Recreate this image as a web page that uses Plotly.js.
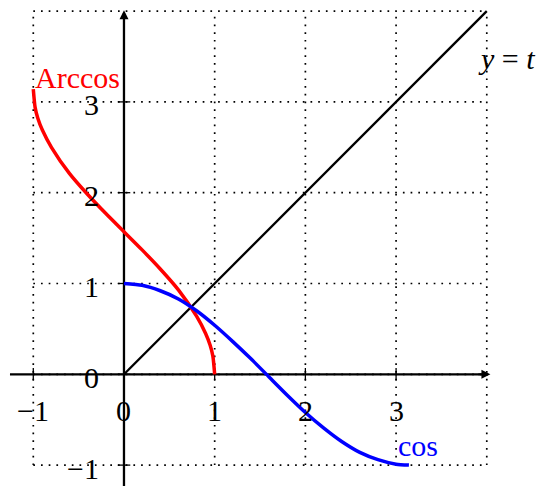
<!DOCTYPE html>
<html>
<head>
<meta charset="utf-8">
<script src="https://cdn.plot.ly/plotly-3.0.1.min.js"></script>
<style>
  html, body { margin: 0; padding: 0; background: #fff; }
  #plot { width: 548px; height: 486px; }
</style>
</head>
<body>
<div id="plot"></div>
<script>
// cos t on [0, π]
const cosT = [0, 0.2, 0.4, 0.6, 0.8, 1.0, 1.2, 1.4, 1.6, 1.8, 2.0, 2.2, 2.4, 2.6, 2.8, 3.0, 3.1416];
const cosY = [1, 0.98, 0.92, 0.83, 0.70, 0.54, 0.36, 0.17, -0.03, -0.23, -0.42, -0.59, -0.74, -0.86, -0.94, -0.99, -1];

// Arccos t on [-1, 1]
const acosT = [-1, -0.98, -0.95, -0.9, -0.8, -0.6, -0.4, -0.2, 0, 0.2, 0.4, 0.6, 0.8, 0.9, 0.95, 0.98, 1.0];
const acosY = [3.1416, 2.94, 2.82, 2.69, 2.50, 2.21, 1.98, 1.77, 1.57, 1.37, 1.16, 0.93, 0.64, 0.45, 0.32, 0.20, 0];

// y = t
const idT = [0, 4];
const idY = [0, 4];

// grid and tick values
const gridVals = [-1, 0, 1, 2, 3, 4];
const xTicks = [-1, 0, 1, 2, 3];
const yTicks = [-1, 0, 1, 2, 3];
const xTickLabels = ['\u22121', '0', '1', '2', '3'];
const yTickLabels = ['\u22121', '0', '1', '2', '3'];

const FONT = '"Liberation Serif", "DejaVu Serif", serif';
const FS = 30;

const xRange = [-1.367, 4.675];
const yRange = [-1.230, 4.122];
const axisX = [-1.257, 4.04];
const axisY = [-1.25, 4.01];

const shapes = [];
gridVals.forEach(v => {
  shapes.push({type: 'line', xref: 'x', yref: 'y', x0: v, x1: v, y0: -1, y1: 4,
    layer: 'below', line: {color: '#000', width: 1.7, dash: '1.7px,6px'}});
  shapes.push({type: 'line', xref: 'x', yref: 'y', x0: -1, x1: 4, y0: v, y1: v,
    layer: 'below', line: {color: '#000', width: 1.7, dash: '1.7px,6px'}});
});
// axis lines
shapes.push({type: 'line', xref: 'x', yref: 'y', x0: axisX[0], x1: axisX[1] - 0.03, y0: 0, y1: 0,
  layer: 'below', line: {color: '#000', width: 2.3}});
shapes.push({type: 'line', xref: 'x', yref: 'y', x0: 0, x1: 0, y0: axisY[0], y1: axisY[1] - 0.03,
  layer: 'below', line: {color: '#000', width: 2.3}});

const annotations = [];
// arrowheads
annotations.push({x: axisX[1], y: 0, ax: axisX[1] - 0.15, ay: 0, xref: 'x', yref: 'y', axref: 'x', ayref: 'y',
  text: '', showarrow: true, arrowhead: 2, arrowsize: 1.0, arrowwidth: 1.8, arrowcolor: '#000'});
annotations.push({x: 0, y: axisY[1], ax: 0, ay: axisY[1] - 0.15, xref: 'x', yref: 'y', axref: 'x', ayref: 'y',
  text: '', showarrow: true, arrowhead: 2, arrowsize: 1.0, arrowwidth: 1.8, arrowcolor: '#000'});

xTicks.forEach((v, i) => {
  annotations.push({x: v, y: 0, xref: 'x', yref: 'y', text: xTickLabels[i], showarrow: false,
    xanchor: 'center', yanchor: 'middle', yshift: -36, font: {family: FONT, size: FS, color: '#000'}});
});
yTicks.forEach((v, i) => {
  annotations.push({x: 0, y: v, xref: 'x', yref: 'y', text: yTickLabels[i], showarrow: false,
    xanchor: 'right', yanchor: 'middle', xshift: -23, yshift: -3, font: {family: FONT, size: FS, color: '#000'}});
});

// curve labels
annotations.push({x: acosT[0], y: acosY[0], xref: 'x', yref: 'y', text: 'Arccos', showarrow: false,
  xanchor: 'left', yanchor: 'middle', xshift: 0, yshift: 12, font: {family: FONT, size: FS, color: '#ff0000'}});
annotations.push({x: cosT[cosT.length - 1], y: cosY[cosY.length - 1], xref: 'x', yref: 'y', text: 'cos', showarrow: false,
  xanchor: 'left', yanchor: 'middle', xshift: -13, yshift: 20, font: {family: FONT, size: FS, color: '#0000ff'}});
annotations.push({x: idT[1], y: idY[1], xref: 'x', yref: 'y', text: '<i>y</i> = <i>t</i>', showarrow: false,
  xanchor: 'left', yanchor: 'middle', xshift: -11, yshift: -47, font: {family: FONT, size: FS, color: '#000'}});

const traces = [
  {x: xTicks, y: xTicks.map(() => 0), mode: 'markers', hoverinfo: 'skip',
    marker: {symbol: 'line-ns', size: 9, line: {width: 1.3, color: '#000'}}},
  {x: yTicks.map(() => 0), y: yTicks, mode: 'markers', hoverinfo: 'skip',
    marker: {symbol: 'line-ew', size: 9, line: {width: 1.3, color: '#000'}}},
  {x: idT, y: idY, mode: 'lines', line: {color: '#000', width: 2.3}},
  {x: acosT, y: acosY, mode: 'lines', line: {color: '#ff0000', width: 3.5, shape: 'spline', smoothing: 0.6}},
  {x: cosT, y: cosY, mode: 'lines', line: {color: '#0000ff', width: 3.5, shape: 'spline', smoothing: 0.6}}
];

const layout = {
  width: 548, height: 486,
  margin: {l: 0, r: 0, t: 0, b: 0},
  paper_bgcolor: '#fff', plot_bgcolor: '#fff',
  showlegend: false,
  xaxis: {range: xRange, visible: false, fixedrange: true},
  yaxis: {range: yRange, visible: false, fixedrange: true},
  shapes: shapes,
  annotations: annotations
};

Plotly.newPlot('plot', traces, layout, {displayModeBar: false, staticPlot: true});
</script>
</body>
</html>
